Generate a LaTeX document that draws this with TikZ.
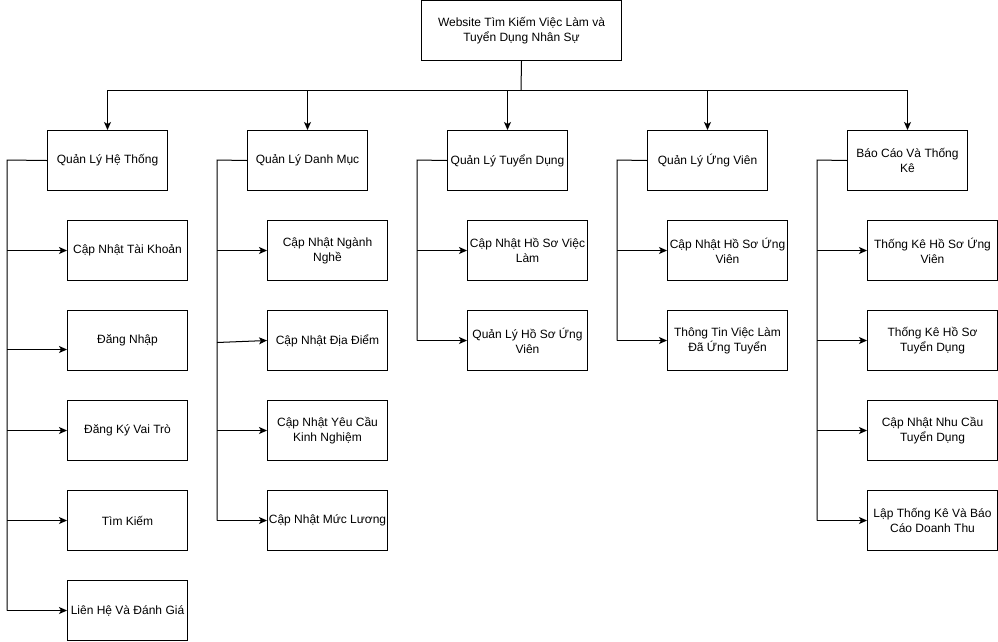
\documentclass[tikz,border=0pt]{standalone}
\usepackage{fontspec}
\setmainfont{Liberation Sans}
\usetikzlibrary{arrows.meta,calc}
\begin{document}
\begin{tikzpicture}[x=1pt,y=-1pt,
  box/.style={draw, line width=1pt, minimum width=120pt, minimum height=60pt, inner sep=1pt, align=center, anchor=north west, font=\fontsize{12}{15}\selectfont},
  widebox/.style={box, minimum width=130pt},
  link/.style={line width=1pt},
  arr/.style={line width=1pt, -{Stealth[length=8pt,width=7pt,inset=2pt]}}]
\useasboundingbox (0,0) rectangle (998,641);
% root
\node[box, minimum width=200pt] (top) at (421,0) {Website Tìm Kiếm Việc Làm và\\Tuyển Dụng Nhân Sự};
% level 2
\node[box] (a1) at (47,130) {Quản Lý Hệ Thống};
\node[box] (a2) at (247,130) {Quản Lý Danh Mục};
\node[box] (a3) at (447,130) {Quản Lý Tuyển Dụng};
\node[box] (a4) at (647,130) {Quản Lý Ứng Viên};
\node[box] (a5) at (847,130) {Báo Cáo Và Thống\\Kê};
% column 1
\node[box] (c11) at (67,220) {Cập Nhật Tài Khoản};
\node[box] (c12) at (67,310) {Đăng Nhập};
\node[box] (c13) at (67,400) {Đăng Ký Vai Trò};
\node[box] (c14) at (67,490) {Tìm Kiếm};
\node[box] (c15) at (67,580) {Liên Hệ Và Đánh Giá};
% column 2
\node[box] (c21) at (267,220) {Cập Nhật Ngành\\Nghề};
\node[box] (c22) at (267,310) {Cập Nhật Địa Điểm};
\node[box] (c23) at (267,400) {Cập Nhật Yêu Cầu\\Kinh Nghiệm};
\node[box] (c24) at (267,490) {Cập Nhật Mức Lương};
% column 3
\node[box] (c31) at (467,220) {Cập Nhật Hồ Sơ Việc\\Làm};
\node[box] (c32) at (467,310) {Quản Lý Hồ Sơ Ứng\\Viên};
% column 4
\node[box] (c41) at (667,220) {Cập Nhật Hồ Sơ Ứng\\Viên};
\node[box] (c42) at (667,310) {Thông Tin Việc Làm\\Đã Ứng Tuyển};
% column 5
\node[widebox] (c51) at (867,220) {Thống Kê Hồ Sơ Ứng\\Viên};
\node[widebox] (c52) at (867,310) {Thống Kê Hồ Sơ\\Tuyển Dụng};
\node[widebox] (c53) at (867,400) {Cập Nhật Nhu Cầu\\Tuyển Dụng};
\node[widebox] (c54) at (867,490) {Lập Thống Kê Và Báo\\Cáo Doanh Thu};
% bus from root
\coordinate (bus) at (521,90);
\draw[link] (top.south) -- (bus);
\draw[link] (a1.north |- bus) -- (a5.north |- bus);
\foreach \n in {a1,a2,a3,a4,a5}
  \draw[arr] (\n.north |- bus) -- (\n.north);
% feeders
\coordinate (f1) at (7,160);
\coordinate (f2) at (217,160);
\coordinate (f3) at (417,160);
\coordinate (f4) at (617,160);
\coordinate (f5) at (817,160);
\draw[link] (a1.west) -- (f1) -- (f1 |- c15.west);
\draw[link] (a2.west) -- (f2) -- (f2 |- c24.west);
\draw[link] (a3.west) -- (f3) -- (f3 |- c32.west);
\draw[link] (a4.west) -- (f4) -- (f4 |- c42.west);
\draw[link] (a5.west) -- (f5) -- (f5 |- c54.west);
\foreach \n in {c11,c13,c14,c15} \draw[arr] (f1 |- \n.west) -- (\n.west);
\draw[arr] ($(f1 |- c12.west)+(0,9)$) -- ($(c12.west)+(0,9)$);
\foreach \n in {c21,c23,c24} \draw[arr] (f2 |- \n.west) -- (\n.west);
\draw[arr] ($(f2 |- c22.west)+(0,2)$) -- (c22.west);
\foreach \n in {c31,c32} \draw[arr] (f3 |- \n.west) -- (\n.west);
\foreach \n in {c41,c42} \draw[arr] (f4 |- \n.west) -- (\n.west);
\foreach \n in {c51,c52,c53,c54} \draw[arr] (f5 |- \n.west) -- (\n.west);
\end{tikzpicture}
\end{document}
